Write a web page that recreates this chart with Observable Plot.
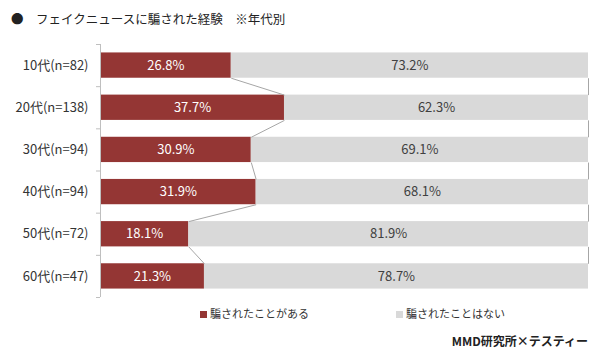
<!DOCTYPE html>
<html><head><meta charset="utf-8">
<script src="https://cdn.jsdelivr.net/npm/d3@7"></script>
<script src="https://cdn.jsdelivr.net/npm/@observablehq/plot@0.6"></script>
<style>
body{margin:0;background:#fff;font-family:"Noto Sans CJK JP","Noto Sans",sans-serif;}
#wrap{position:relative;width:595px;height:353px;overflow:hidden;}
#title{position:absolute;left:11px;top:9px;font-size:12.5px;color:#222;white-space:pre;}
#chart{position:absolute;left:0;top:35px;}
.leg{position:absolute;top:305px;font-size:11px;color:#333;white-space:nowrap;}
.sw{display:inline-block;width:7px;height:7px;margin-right:3px;vertical-align:0px;}
#cap{position:absolute;right:7px;top:332px;font-size:12px;font-weight:bold;color:#222;white-space:nowrap;}
</style></head>
<body><div id="wrap">
<div id="title">●　フェイクニュースに騙された経験　※年代別</div>
<div id="chart"></div>
<div class="leg" style="left:200px"><span class="sw" style="background:#943634"></span>騙されたことがある</div>
<div class="leg" style="left:396px"><span class="sw" style="background:#d9d9d9"></span>騙されたことはない</div>
<div id="cap">MMD研究所×テスティー</div>
</div>
<script>
const categories = ["10代(n=82)","20代(n=138)","30代(n=94)","40代(n=94)","50代(n=72)","60代(n=47)"];
const deceived = [26.8,37.7,30.9,31.9,18.1,21.3];
const notDeceived = [73.2,62.3,69.1,68.1,81.9,78.7];
const seriesNames = ["騙されたことがある","騙されたことはない"];
const colors = ["#943634","#d9d9d9"];

const half = 0.3;
const rows = categories.map((c,i)=>({i, c, a: deceived[i], b: notDeceived[i]}));
const links = rows.slice(0,-1).map((r,k)=>({x1:r.a, y1:r.i+half, x2:rows[k+1].a, y2:rows[k+1].i-half}));
const rlinks = rows.slice(0,-1).map((r,k)=>({x1:r.a+r.b, y1:r.i+half, x2:rows[k+1].a+rows[k+1].b, y2:rows[k+1].i-half}));

const plot = Plot.plot({
  width: 595, height: 268,
  marginLeft: 100, marginRight: 7, marginTop: 9, marginBottom: 6,
  style: {fontFamily: '"Noto Sans CJK JP","Noto Sans",sans-serif', fontSize: "13px", color: "#404040"},
  x: {domain: [0,100], axis: null},
  y: {domain: [-0.5, 5.5], reverse: true, axis: null},
  marks: [
    Plot.rect(rows, {x1: 0, x2: d=>d.a, y1: d=>d.i-half, y2: d=>d.i+half, fill: colors[0]}),
    Plot.rect(rows, {x1: d=>d.a, x2: d=>d.a+d.b, y1: d=>d.i-half, y2: d=>d.i+half, fill: colors[1]}),
    Plot.link(links, {x1:"x1", y1:"y1", x2:"x2", y2:"y2", stroke:"#a6a6a6", strokeWidth:1}),
    Plot.link(rlinks, {x1:"x1", y1:"y1", x2:"x2", y2:"y2", stroke:"#a6a6a6", strokeWidth:1}),
    Plot.ruleX([0], {y1:-0.5, y2:5.5, stroke:"#bfbfbf"}),
    Plot.axisY(d3.range(7).map(i=>i-0.5), {tickSize:4, tickFormat: ()=>"", stroke:"#bfbfbf"}),
    Plot.axisY(d3.range(6), {tickSize:0, tickPadding:12, tickFormat: i=>categories[i], fontSize:13, fill:"#333"}),
    Plot.text(rows, {x: d=>d.a/2, y: "i", text: d=>d.a.toFixed(1)+"%", fill:"#fff", fontSize:13}),
    Plot.text(rows, {x: d=>d.a+d.b/2, y: "i", text: d=>d.b.toFixed(1)+"%", fill:"#404040", fontSize:13})
  ]
});
document.getElementById("chart").appendChild(plot);
</script>
</body></html>
